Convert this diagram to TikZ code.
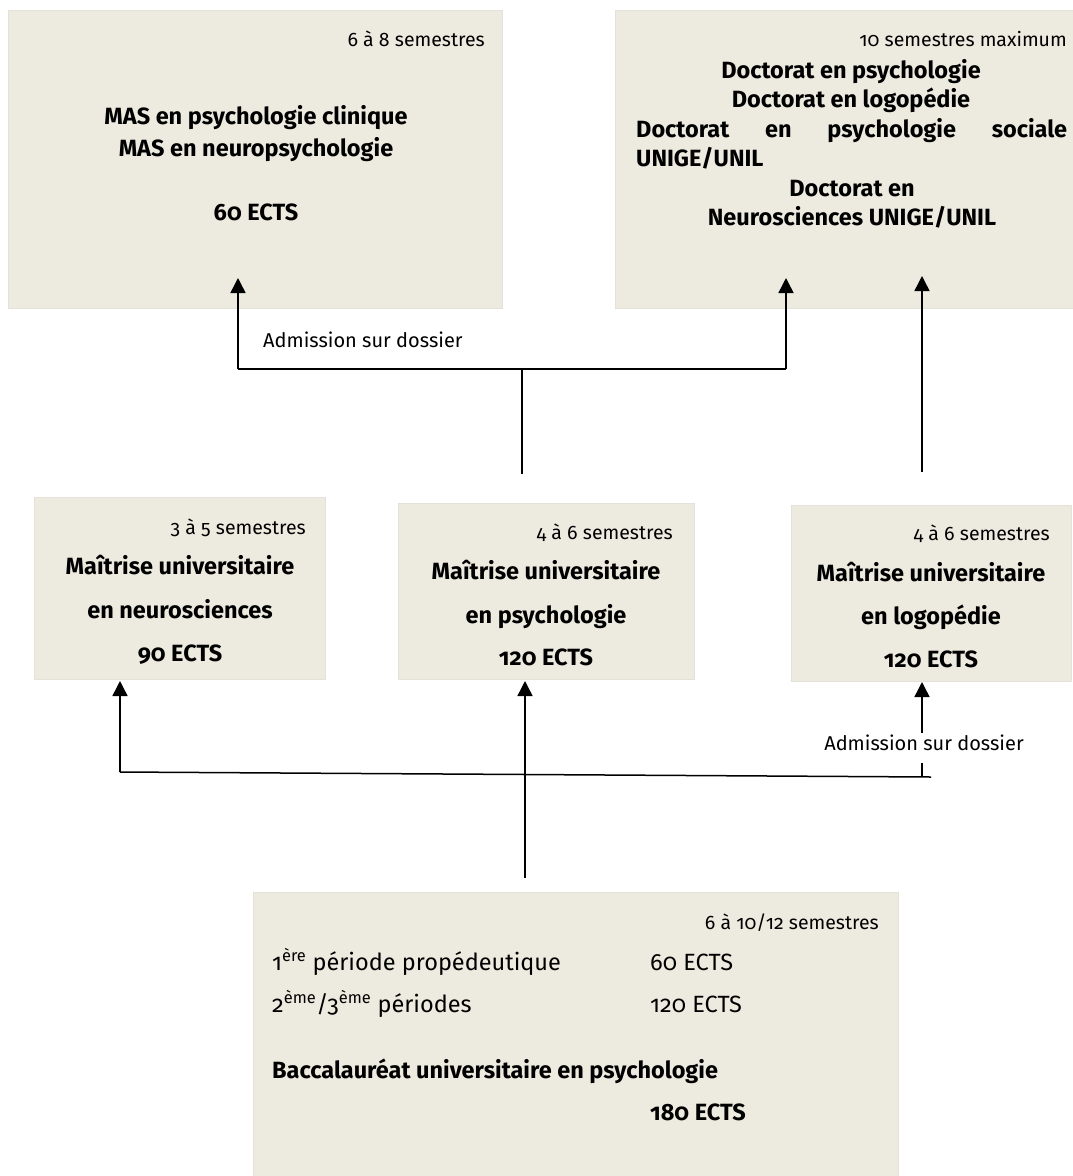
\documentclass[tikz,border=0pt]{standalone}
\usepackage{fontspec}
\setmainfont{Fira Sans}[Numbers=OldStyle]
\usetikzlibrary{arrows.meta}
\definecolor{boxfill}{HTML}{EDEBE0}
\definecolor{boxedge}{HTML}{E3E1D9}
\begin{document}
\begin{tikzpicture}[x=1pt,y=-1pt,
  progbox/.style={fill=boxfill, draw=boxedge, line width=1pt, inner sep=0pt, anchor=north west},
  txt/.style={inner sep=0pt, text height=0.72em, text depth=0.2em},
  semtxt/.style={txt, font=\fontsize{19.5}{22}\selectfont, anchor=east, yshift=-4pt},
  titletxt/.style={txt, font=\fontsize{23.5}{27}\selectfont\bfseries, yshift=-5pt},
  lbl/.style={txt, font=\fontsize{20}{23}\selectfont, yshift=-4pt},
  bactxt/.style={txt, font=\fontsize{23.5}{27}\selectfont, anchor=west, yshift=-5pt},
  conn/.style={line width=1.5pt, draw=black},
  arr/.style={conn, -{Triangle[length=15pt,width=15pt]}}
]
\useasboundingbox (0,0) rectangle (1073,1176);
\fill[white] (0,0) rectangle (1073,1176);

% ---------- boxes ----------
\node[progbox, minimum width=494pt, minimum height=298pt] (mas) at (8,10) {};
\node[progbox, minimum width=458pt, minimum height=298pt] (doc) at (615,10) {};
\node[progbox, minimum width=291pt, minimum height=182pt] (neuro) at (34,497) {};
\node[progbox, minimum width=296pt, minimum height=176pt] (psy) at (398,503) {};
\node[progbox, minimum width=280pt, minimum height=176pt] (logo) at (791,505) {};
\node[progbox, minimum width=645pt, minimum height=284pt] (bac) at (253,892) {};

% ---------- MAS ----------
\node[semtxt] (masSem) at (485,40) {6 à 8 semestres};
\node[titletxt] (mas1) at (256,117) {MAS en psychologie clinique};
\node[titletxt] (mas2) at (256,149) {MAS en neuropsychologie};
\node[titletxt] (mas3) at (256,213) {60 ECTS};

% ---------- Doctorat ----------
\node[semtxt] (docSem) at (1067,40) {10 semestres maximum};
\node[titletxt] (doc1) at (851,71) {Doctorat en psychologie};
\node[titletxt] (doc2) at (851,100) {Doctorat en logopédie};
\node[titletxt, anchor=west] (doc3) at (636,130) {\hbox to 431pt{Doctorat\hfill en\hfill psychologie\hfill sociale}};
\node[titletxt, anchor=west] (doc4) at (636,159) {UNIGE/UNIL};
\node[titletxt] (doc5) at (852,189) {Doctorat en};
\node[titletxt] (doc6) at (852,218) {Neurosciences UNIGE/UNIL};

% ---------- Maitrises ----------
\node[semtxt] (neuSem) at (306,528) {3 à 5 semestres};
\node[titletxt] (neu1) at (180,567) {Maîtrise universitaire};
\node[titletxt] (neu2) at (180,611) {en neurosciences};
\node[titletxt] (neu3) at (180,654) {90 ECTS};

\node[semtxt] (psySem) at (673,533) {4 à 6 semestres};
\node[titletxt] (psy1) at (546,572) {Maîtrise universitaire};
\node[titletxt] (psy2) at (546,616) {en psychologie};
\node[titletxt] (psy3) at (546,658) {120 ECTS};

\node[semtxt] (logSem) at (1050,534) {4 à 6 semestres};
\node[titletxt] (log1) at (931,574) {Maîtrise universitaire};
\node[titletxt] (log2) at (931,617) {en logopédie};
\node[titletxt] (log3) at (931,660) {120 ECTS};

% ---------- Baccalaureat ----------
\node[semtxt] (bacSem) at (879,923) {6 à 10/12 semestres};
\node[bactxt] (bac1) at (272,963) {1\textsuperscript{ère} période propédeutique};
\node[bactxt] (bac1e) at (650,963) {60 ECTS};
\node[bactxt] (bac2) at (272,1005) {2\textsuperscript{ème}/3\textsuperscript{ème} périodes};
\node[bactxt] (bac2e) at (650,1005) {120 ECTS};
\node[bactxt, font=\fontsize{23.5}{27}\selectfont\bfseries] (bac3) at (272,1071) {Baccalauréat universitaire en psychologie};
\node[bactxt, font=\fontsize{23.5}{27}\selectfont\bfseries] (bac4) at (650,1113) {180 ECTS};

% ---------- upper connectors ----------
\coordinate (jl) at (238,369);
\coordinate (jr) at (786,369);
\coordinate (jm) at (522,369);
\coordinate (jmb) at (522,474);
\coordinate (masIn) at (238,278);
\coordinate (docIn1) at (786,278);
\coordinate (docIn2) at (922,276);
\coordinate (logTop) at (922,472);
\draw[conn] (jl) -- (jr);
\draw[conn] (jmb) -- (jm);
\draw[arr] (jl) -- (masIn);
\draw[arr] (jr) -- (docIn1);
\draw[arr] (logTop) -- (docIn2);
\node[lbl, anchor=west] (adm1) at (263,341) {Admission sur dossier};

% ---------- lower connectors ----------
\coordinate (hl) at (120,772);
\coordinate (hr) at (931,777);
\coordinate (neuIn) at (120,681);
\coordinate (psyBot) at (525,878);
\coordinate (psyIn) at (525,681);
\coordinate (logBot) at (922,777);
\coordinate (logIn) at (922,682);
\draw[conn] (hl) -- (hr);
\draw[arr] (hl) -- (neuIn);
\draw[arr] (psyBot) -- (psyIn);
\draw[arr] (logBot) -- (logIn);
\node[lbl, fill=white, inner xsep=2pt, inner ysep=10pt] (adm2) at (924,744) {Admission sur dossier};
\end{tikzpicture}
\end{document}
